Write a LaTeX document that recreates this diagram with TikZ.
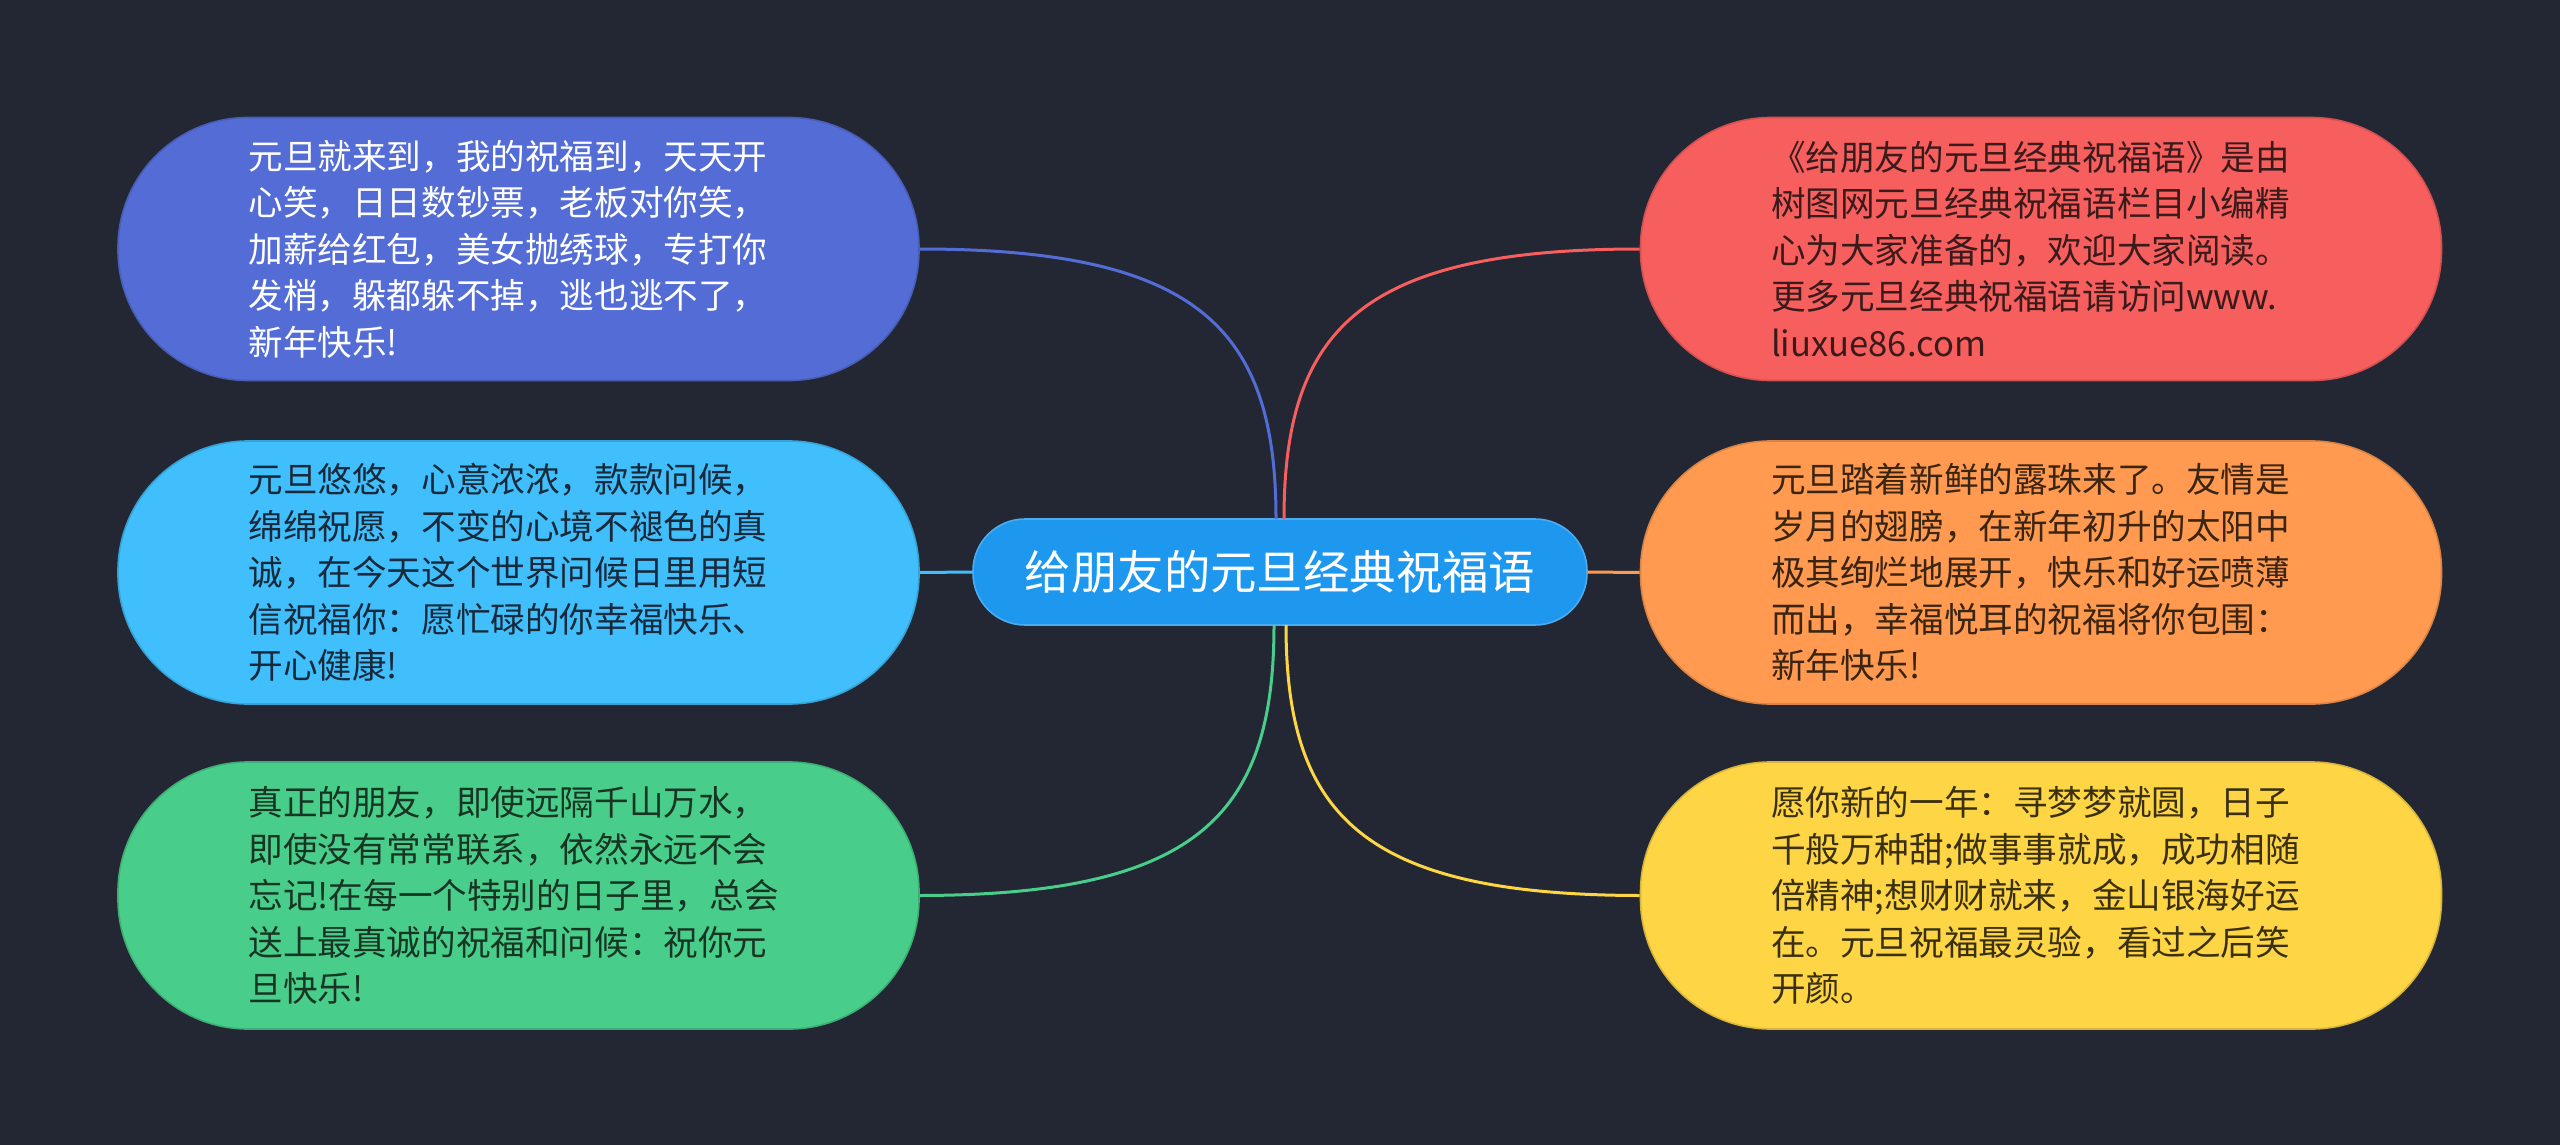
\documentclass[tikz,border=0pt]{standalone}
\usepackage{fontspec}
\newfontfamily\cjk{Noto Sans CJK SC}
\definecolor{bg}{HTML}{222733}
\definecolor{cA}{HTML}{546DD6}
\definecolor{cB}{HTML}{40BFFC}
\definecolor{cC}{HTML}{48CE8A}
\definecolor{cD}{HTML}{F75E5E}
\definecolor{cE}{HTML}{FF9A50}
\definecolor{cF}{HTML}{FDD545}
\definecolor{cM}{HTML}{1E97EE}
\definecolor{tB}{HTML}{17293A}
\definecolor{tC}{HTML}{183524}
\definecolor{tD}{HTML}{3A1B1B}
\definecolor{tE}{HTML}{3A2412}
\definecolor{tF}{HTML}{3A3010}
\begin{document}
\begin{tikzpicture}[x=0.5pt,y=-0.5pt,
  pill/.style={rounded corners=65pt, minimum width=400.5pt, minimum height=131.5pt,
    text width=270pt, align=left, inner sep=0pt, line width=0.8pt,
    font=\cjk\fontsize{17.3pt}{23.25pt}\selectfont},
  link/.style={line width=1.5pt}]
\path[fill=bg] (0,0) rectangle (2560,1145);

\node[pill, fill=cA, draw=cA!85!black, text=white] (n1) at (518.5,249)
{元旦就来到，我的祝福到，天天开\\心笑，日日数钞票，老板对你笑，\\加薪给红包，美女抛绣球，专打你\\发梢，躲都躲不掉，逃也逃不了，\\新年快乐!};
\node[pill, fill=cB, draw=cB!85!black, text=tB] (n2) at (518.5,572.5)
{元旦悠悠，心意浓浓，款款问候，\\绵绵祝愿，不变的心境不褪色的真\\诚，在今天这个世界问候日里用短\\信祝福你：愿忙碌的你幸福快乐、\\开心健康!};
\node[pill, fill=cC, draw=cC!85!black, text=tC, minimum height=133.5pt] (n3) at (518.5,895.5)
{真正的朋友，即使远隔千山万水，\\即使没有常常联系，依然永远不会\\忘记!在每一个特别的日子里，总会\\送上最真诚的祝福和问候：祝你元\\旦快乐!};

\node[pill, fill=cD, draw=cD!85!black, text=tD] (m1) at (2041,249)
{《给朋友的元旦经典祝福语》是由\\树图网元旦经典祝福语栏目小编精\\心为大家准备的，欢迎大家阅读。\\更多元旦经典祝福语请访问www.\\liuxue86.com};
\node[pill, fill=cE, draw=cE!85!black, text=tE] (m2) at (2041,572.5)
{元旦踏着新鲜的露珠来了。友情是\\岁月的翅膀，在新年初升的太阳中\\极其绚烂地展开，快乐和好运喷薄\\而出，幸福悦耳的祝福将你包围：\\新年快乐!};
\node[pill, fill=cF, draw=cF!85!black, text=tF, minimum height=133.5pt] (m3) at (2041,895.5)
{愿你新的一年：寻梦梦就圆，日子\\千般万种甜;做事事就成，成功相随\\倍精神;想财财就来，金山银海好运\\在。元旦祝福最灵验，看过之后笑\\开颜。};

\node[rounded corners=26pt, fill=cM, draw=cM!80!white, line width=0.8pt,
  minimum width=307pt, minimum height=53pt, inner sep=0pt, text=white,
  font=\cjk\fontsize{23.2pt}{28pt}\selectfont] (c) at (1280,572) {给朋友的元旦经典祝福语};

\coordinate (ct1) at (1276,519);
\coordinate (ct2) at (1284,519);
\coordinate (cb1) at (1274,625);
\coordinate (cb2) at (1286,625);

\draw[link, cA] (n1.east) .. controls (1200,249) and (1276,330) .. (ct1);
\draw[link, cD] (m1.west) .. controls (1360,249) and (1284,330) .. (ct2);
\draw[link, cB] (n2.east) -- (c.west);
\draw[link, cE] (c.east) -- (m2.west);
\draw[link, cC] (n3.east) .. controls (1198,895) and (1274,815) .. (cb1);
\draw[link, cF] (m3.west) .. controls (1362,895) and (1286,815) .. (cb2);
\end{tikzpicture}
\end{document}
